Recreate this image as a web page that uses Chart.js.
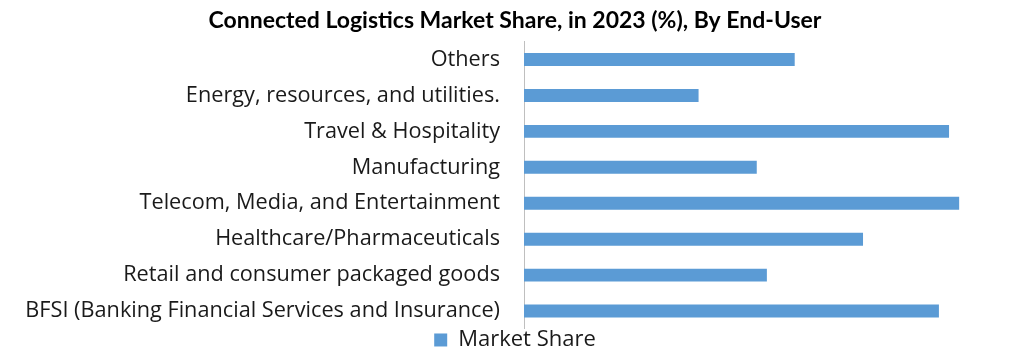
<!DOCTYPE html>
<html>
<head>
<meta charset="utf-8">
<script src="https://cdn.jsdelivr.net/npm/chart.js@4/dist/chart.umd.min.js"></script>
<style>
  html, body { margin: 0; padding: 0; background: #fff; }
  #wrap { width: 1032px; height: 358px; }
</style>
</head>
<body>
<div id="wrap"><canvas id="myChart"></canvas></div>
<script>
// categories top to bottom, values in percent
const endUsers = [
    'Others',
    'Energy, resources, and utilities.',
    'Travel & Hospitality',
    'Manufacturing',
    'Telecom, Media, and Entertainment',
    'Healthcare/Pharmaceuticals',
    'Retail and consumer packaged goods',
    'BFSI (Banking Financial Services and Insurance)'
];
const marketShare = [10.7, 6.9, 16.8, 9.2, 17.2, 13.4, 9.6, 16.4];
const seriesName = 'Market Share';

const labelFont = "'Open Sans', 'Noto Sans', sans-serif";

const ctx = document.getElementById('myChart').getContext('2d');
const myChart = new Chart(ctx, {
    type: 'bar',
    data: {
        labels: endUsers,
        datasets: [{
            label: seriesName,
            data: marketShare,
            backgroundColor: '#5b9bd5',
            borderWidth: 0,
            barPercentage: 0.36,
            categoryPercentage: 1
        }]
    },
    options: {
        indexAxis: 'y',
        responsive: true,
        maintainAspectRatio: false,
        animation: false,
        layout: { padding: { left: 0, right: 2, top: 0, bottom: -5 } },
        scales: {
            x: {
                display: false,
                min: 0,
                max: 20
            },
            y: {
                grid: { display: false },
                border: { display: true, color: '#bfbfbf', width: 1 },
                ticks: {
                    color: '#1a1a1a',
                    padding: 16,
                    font: { family: labelFont, size: 21.7 }
                },
                afterFit: function (scale) { scale.width = 524; }
            }
        },
        plugins: {
            title: {
                display: true,
                text: 'Connected Logistics Market Share, in 2023 (%), By End-User',
                color: '#000',
                font: { family: "Lato, 'Liberation Sans Narrow', sans-serif", size: 23, weight: 'bold' },
                padding: { top: 7, bottom: 7 }
            },
            legend: {
                position: 'bottom',
                labels: {
                    color: '#1a1a1a',
                    boxWidth: 13,
                    boxHeight: 13,
                    padding: 0,
                    font: { family: labelFont, size: 22 }
                }
            },
            tooltip: { enabled: false }
        }
    }
});
</script>
</body>
</html>
